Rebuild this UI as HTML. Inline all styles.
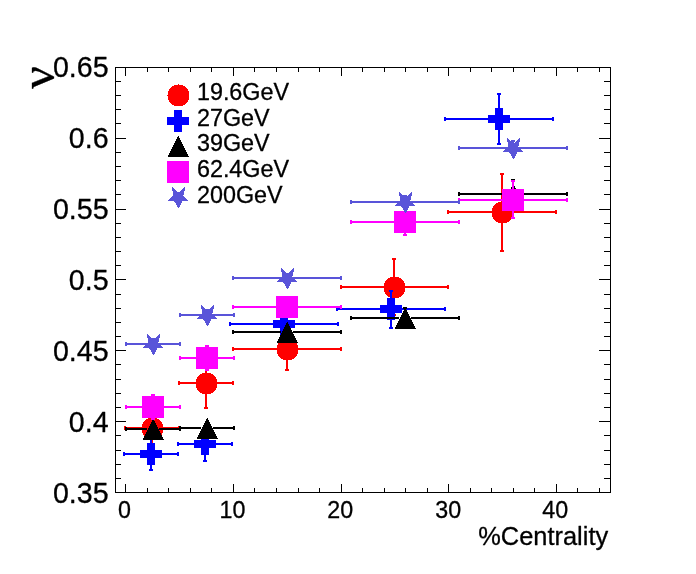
<!DOCTYPE html>
<html lang="en"><head><meta charset="utf-8"><title>Centrality plot</title>
<style>html,body{margin:0;padding:0;background:#fff;overflow:hidden}svg{display:block}text{font-family:"Liberation Sans",sans-serif;fill:#000}</style>
</head><body>
<svg width="696" height="574" viewBox="0 0 696 574">
<rect x="0" y="0" width="696" height="574" fill="#fff"/>
<g shape-rendering="crispEdges">
<rect x="115" y="67" width="496" height="1" fill="#000"/>
<rect x="115" y="492" width="496" height="1" fill="#000"/>
<rect x="115" y="67" width="1" height="426" fill="#000"/>
<rect x="610" y="67" width="1" height="426" fill="#000"/>
<rect x="125" y="484" width="1" height="9" fill="#000"/>
<rect x="125" y="67" width="1" height="9" fill="#000"/>
<rect x="147" y="488" width="1" height="5" fill="#000"/>
<rect x="147" y="67" width="1" height="5" fill="#000"/>
<rect x="168" y="488" width="1" height="5" fill="#000"/>
<rect x="168" y="67" width="1" height="5" fill="#000"/>
<rect x="190" y="488" width="1" height="5" fill="#000"/>
<rect x="190" y="67" width="1" height="5" fill="#000"/>
<rect x="211" y="488" width="1" height="5" fill="#000"/>
<rect x="211" y="67" width="1" height="5" fill="#000"/>
<rect x="233" y="484" width="1" height="9" fill="#000"/>
<rect x="233" y="67" width="1" height="9" fill="#000"/>
<rect x="254" y="488" width="1" height="5" fill="#000"/>
<rect x="254" y="67" width="1" height="5" fill="#000"/>
<rect x="276" y="488" width="1" height="5" fill="#000"/>
<rect x="276" y="67" width="1" height="5" fill="#000"/>
<rect x="298" y="488" width="1" height="5" fill="#000"/>
<rect x="298" y="67" width="1" height="5" fill="#000"/>
<rect x="319" y="488" width="1" height="5" fill="#000"/>
<rect x="319" y="67" width="1" height="5" fill="#000"/>
<rect x="341" y="484" width="1" height="9" fill="#000"/>
<rect x="341" y="67" width="1" height="9" fill="#000"/>
<rect x="362" y="488" width="1" height="5" fill="#000"/>
<rect x="362" y="67" width="1" height="5" fill="#000"/>
<rect x="384" y="488" width="1" height="5" fill="#000"/>
<rect x="384" y="67" width="1" height="5" fill="#000"/>
<rect x="405" y="488" width="1" height="5" fill="#000"/>
<rect x="405" y="67" width="1" height="5" fill="#000"/>
<rect x="427" y="488" width="1" height="5" fill="#000"/>
<rect x="427" y="67" width="1" height="5" fill="#000"/>
<rect x="448" y="484" width="1" height="9" fill="#000"/>
<rect x="448" y="67" width="1" height="9" fill="#000"/>
<rect x="470" y="488" width="1" height="5" fill="#000"/>
<rect x="470" y="67" width="1" height="5" fill="#000"/>
<rect x="491" y="488" width="1" height="5" fill="#000"/>
<rect x="491" y="67" width="1" height="5" fill="#000"/>
<rect x="513" y="488" width="1" height="5" fill="#000"/>
<rect x="513" y="67" width="1" height="5" fill="#000"/>
<rect x="534" y="488" width="1" height="5" fill="#000"/>
<rect x="534" y="67" width="1" height="5" fill="#000"/>
<rect x="556" y="484" width="1" height="9" fill="#000"/>
<rect x="556" y="67" width="1" height="9" fill="#000"/>
<rect x="577" y="488" width="1" height="5" fill="#000"/>
<rect x="577" y="67" width="1" height="5" fill="#000"/>
<rect x="599" y="488" width="1" height="5" fill="#000"/>
<rect x="599" y="67" width="1" height="5" fill="#000"/>
<rect x="115" y="81" width="6" height="1" fill="#000"/>
<rect x="604" y="81" width="7" height="1" fill="#000"/>
<rect x="115" y="95" width="6" height="1" fill="#000"/>
<rect x="604" y="95" width="7" height="1" fill="#000"/>
<rect x="115" y="109" width="6" height="1" fill="#000"/>
<rect x="604" y="109" width="7" height="1" fill="#000"/>
<rect x="115" y="123" width="6" height="1" fill="#000"/>
<rect x="604" y="123" width="7" height="1" fill="#000"/>
<rect x="115" y="138" width="11" height="1" fill="#000"/>
<rect x="599" y="138" width="12" height="1" fill="#000"/>
<rect x="115" y="152" width="6" height="1" fill="#000"/>
<rect x="604" y="152" width="7" height="1" fill="#000"/>
<rect x="115" y="166" width="6" height="1" fill="#000"/>
<rect x="604" y="166" width="7" height="1" fill="#000"/>
<rect x="115" y="180" width="6" height="1" fill="#000"/>
<rect x="604" y="180" width="7" height="1" fill="#000"/>
<rect x="115" y="194" width="6" height="1" fill="#000"/>
<rect x="604" y="194" width="7" height="1" fill="#000"/>
<rect x="115" y="209" width="11" height="1" fill="#000"/>
<rect x="599" y="209" width="12" height="1" fill="#000"/>
<rect x="115" y="223" width="6" height="1" fill="#000"/>
<rect x="604" y="223" width="7" height="1" fill="#000"/>
<rect x="115" y="237" width="6" height="1" fill="#000"/>
<rect x="604" y="237" width="7" height="1" fill="#000"/>
<rect x="115" y="251" width="6" height="1" fill="#000"/>
<rect x="604" y="251" width="7" height="1" fill="#000"/>
<rect x="115" y="265" width="6" height="1" fill="#000"/>
<rect x="604" y="265" width="7" height="1" fill="#000"/>
<rect x="115" y="279" width="11" height="1" fill="#000"/>
<rect x="599" y="279" width="12" height="1" fill="#000"/>
<rect x="115" y="294" width="6" height="1" fill="#000"/>
<rect x="604" y="294" width="7" height="1" fill="#000"/>
<rect x="115" y="308" width="6" height="1" fill="#000"/>
<rect x="604" y="308" width="7" height="1" fill="#000"/>
<rect x="115" y="322" width="6" height="1" fill="#000"/>
<rect x="604" y="322" width="7" height="1" fill="#000"/>
<rect x="115" y="336" width="6" height="1" fill="#000"/>
<rect x="604" y="336" width="7" height="1" fill="#000"/>
<rect x="115" y="350" width="11" height="1" fill="#000"/>
<rect x="599" y="350" width="12" height="1" fill="#000"/>
<rect x="115" y="364" width="6" height="1" fill="#000"/>
<rect x="604" y="364" width="7" height="1" fill="#000"/>
<rect x="115" y="379" width="6" height="1" fill="#000"/>
<rect x="604" y="379" width="7" height="1" fill="#000"/>
<rect x="115" y="393" width="6" height="1" fill="#000"/>
<rect x="604" y="393" width="7" height="1" fill="#000"/>
<rect x="115" y="407" width="6" height="1" fill="#000"/>
<rect x="604" y="407" width="7" height="1" fill="#000"/>
<rect x="115" y="421" width="11" height="1" fill="#000"/>
<rect x="599" y="421" width="12" height="1" fill="#000"/>
<rect x="115" y="435" width="6" height="1" fill="#000"/>
<rect x="604" y="435" width="7" height="1" fill="#000"/>
<rect x="115" y="450" width="6" height="1" fill="#000"/>
<rect x="604" y="450" width="7" height="1" fill="#000"/>
<rect x="115" y="464" width="6" height="1" fill="#000"/>
<rect x="604" y="464" width="7" height="1" fill="#000"/>
<rect x="115" y="478" width="6" height="1" fill="#000"/>
<rect x="604" y="478" width="7" height="1" fill="#000"/>
<rect x="124" y="427" width="56" height="2" fill="#ff0000"/>
<rect x="124" y="426" width="2" height="4" fill="#ff0000"/>
<rect x="178" y="426" width="2" height="4" fill="#ff0000"/>
<rect x="151" y="411" width="2" height="34" fill="#ff0000"/>
<rect x="150" y="411" width="4" height="2" fill="#ff0000"/>
<rect x="150" y="443" width="4" height="2" fill="#ff0000"/>
<rect x="178" y="382" width="56" height="2" fill="#ff0000"/>
<rect x="178" y="381" width="2" height="4" fill="#ff0000"/>
<rect x="232" y="381" width="2" height="4" fill="#ff0000"/>
<rect x="205" y="357" width="2" height="52" fill="#ff0000"/>
<rect x="204" y="357" width="4" height="2" fill="#ff0000"/>
<rect x="204" y="407" width="4" height="2" fill="#ff0000"/>
<rect x="232" y="348" width="110" height="2" fill="#ff0000"/>
<rect x="232" y="347" width="2" height="4" fill="#ff0000"/>
<rect x="340" y="347" width="2" height="4" fill="#ff0000"/>
<rect x="286" y="327" width="2" height="44" fill="#ff0000"/>
<rect x="285" y="327" width="4" height="2" fill="#ff0000"/>
<rect x="285" y="369" width="4" height="2" fill="#ff0000"/>
<rect x="340" y="286" width="109" height="2" fill="#ff0000"/>
<rect x="340" y="285" width="2" height="4" fill="#ff0000"/>
<rect x="447" y="285" width="2" height="4" fill="#ff0000"/>
<rect x="393" y="258" width="2" height="58" fill="#ff0000"/>
<rect x="392" y="258" width="4" height="2" fill="#ff0000"/>
<rect x="392" y="314" width="4" height="2" fill="#ff0000"/>
<rect x="447" y="211" width="110" height="2" fill="#ff0000"/>
<rect x="447" y="210" width="2" height="4" fill="#ff0000"/>
<rect x="555" y="210" width="2" height="4" fill="#ff0000"/>
<rect x="501" y="173" width="2" height="79" fill="#ff0000"/>
<rect x="500" y="173" width="4" height="2" fill="#ff0000"/>
<rect x="500" y="250" width="4" height="2" fill="#ff0000"/>
<path d="M148 418h9v1h-9zM146 419h13v1h-13zM145 420h15v1h-15zM144 421h17v1h-17zM143 422h19v1h-19zM143 423h19v1h-19zM142 424h21v1h-21zM142 425h21v1h-21zM142 426h21v1h-21zM142 427h21v1h-21zM142 428h21v1h-21zM142 429h21v1h-21zM142 430h21v1h-21zM142 431h21v1h-21zM142 432h21v1h-21zM143 433h19v1h-19zM143 434h19v1h-19zM144 435h17v1h-17zM145 436h15v1h-15zM146 437h13v1h-13zM148 438h9v1h-9zM152 417h1v1h-1zM141 428h1v1h-1z" fill="#ff0000"/>
<path d="M202 373h9v1h-9zM200 374h13v1h-13zM199 375h15v1h-15zM198 376h17v1h-17zM197 377h19v1h-19zM197 378h19v1h-19zM196 379h21v1h-21zM196 380h21v1h-21zM196 381h21v1h-21zM196 382h21v1h-21zM196 383h21v1h-21zM196 384h21v1h-21zM196 385h21v1h-21zM196 386h21v1h-21zM196 387h21v1h-21zM197 388h19v1h-19zM197 389h19v1h-19zM198 390h17v1h-17zM199 391h15v1h-15zM200 392h13v1h-13zM202 393h9v1h-9zM206 372h1v1h-1zM195 383h1v1h-1z" fill="#ff0000"/>
<path d="M283 339h9v1h-9zM281 340h13v1h-13zM280 341h15v1h-15zM279 342h17v1h-17zM278 343h19v1h-19zM278 344h19v1h-19zM277 345h21v1h-21zM277 346h21v1h-21zM277 347h21v1h-21zM277 348h21v1h-21zM277 349h21v1h-21zM277 350h21v1h-21zM277 351h21v1h-21zM277 352h21v1h-21zM277 353h21v1h-21zM278 354h19v1h-19zM278 355h19v1h-19zM279 356h17v1h-17zM280 357h15v1h-15zM281 358h13v1h-13zM283 359h9v1h-9zM287 338h1v1h-1zM276 349h1v1h-1z" fill="#ff0000"/>
<path d="M390 277h9v1h-9zM388 278h13v1h-13zM387 279h15v1h-15zM386 280h17v1h-17zM385 281h19v1h-19zM385 282h19v1h-19zM384 283h21v1h-21zM384 284h21v1h-21zM384 285h21v1h-21zM384 286h21v1h-21zM384 287h21v1h-21zM384 288h21v1h-21zM384 289h21v1h-21zM384 290h21v1h-21zM384 291h21v1h-21zM385 292h19v1h-19zM385 293h19v1h-19zM386 294h17v1h-17zM387 295h15v1h-15zM388 296h13v1h-13zM390 297h9v1h-9zM394 276h1v1h-1zM383 287h1v1h-1z" fill="#ff0000"/>
<path d="M498 202h9v1h-9zM496 203h13v1h-13zM495 204h15v1h-15zM494 205h17v1h-17zM493 206h19v1h-19zM493 207h19v1h-19zM492 208h21v1h-21zM492 209h21v1h-21zM492 210h21v1h-21zM492 211h21v1h-21zM492 212h21v1h-21zM492 213h21v1h-21zM492 214h21v1h-21zM492 215h21v1h-21zM492 216h21v1h-21zM493 217h19v1h-19zM493 218h19v1h-19zM494 219h17v1h-17zM495 220h15v1h-15zM496 221h13v1h-13zM498 222h9v1h-9zM502 201h1v1h-1zM491 212h1v1h-1z" fill="#ff0000"/>
<rect x="123" y="453" width="56" height="2" fill="#0000ff"/>
<rect x="123" y="452" width="2" height="4" fill="#0000ff"/>
<rect x="177" y="452" width="2" height="4" fill="#0000ff"/>
<rect x="150" y="437" width="2" height="34" fill="#0000ff"/>
<rect x="149" y="437" width="4" height="2" fill="#0000ff"/>
<rect x="149" y="469" width="4" height="2" fill="#0000ff"/>
<rect x="177" y="443" width="56" height="2" fill="#0000ff"/>
<rect x="177" y="442" width="2" height="4" fill="#0000ff"/>
<rect x="231" y="442" width="2" height="4" fill="#0000ff"/>
<rect x="204" y="426" width="2" height="36" fill="#0000ff"/>
<rect x="203" y="426" width="4" height="2" fill="#0000ff"/>
<rect x="203" y="460" width="4" height="2" fill="#0000ff"/>
<rect x="229" y="323" width="110" height="2" fill="#0000ff"/>
<rect x="229" y="322" width="2" height="4" fill="#0000ff"/>
<rect x="337" y="322" width="2" height="4" fill="#0000ff"/>
<rect x="336" y="308" width="110" height="2" fill="#0000ff"/>
<rect x="336" y="307" width="2" height="4" fill="#0000ff"/>
<rect x="444" y="307" width="2" height="4" fill="#0000ff"/>
<rect x="390" y="290" width="2" height="39" fill="#0000ff"/>
<rect x="389" y="290" width="4" height="2" fill="#0000ff"/>
<rect x="389" y="327" width="4" height="2" fill="#0000ff"/>
<rect x="444" y="118" width="110" height="2" fill="#0000ff"/>
<rect x="444" y="117" width="2" height="4" fill="#0000ff"/>
<rect x="552" y="117" width="2" height="4" fill="#0000ff"/>
<rect x="498" y="93" width="2" height="52" fill="#0000ff"/>
<rect x="497" y="93" width="4" height="2" fill="#0000ff"/>
<rect x="497" y="143" width="4" height="2" fill="#0000ff"/>
<rect x="140" y="450" width="22" height="8" fill="#0000ff"/>
<rect x="147" y="443" width="8" height="22" fill="#0000ff"/>
<rect x="194" y="440" width="22" height="8" fill="#0000ff"/>
<rect x="201" y="433" width="8" height="22" fill="#0000ff"/>
<rect x="273" y="320" width="22" height="8" fill="#0000ff"/>
<rect x="280" y="313" width="8" height="22" fill="#0000ff"/>
<rect x="380" y="305" width="22" height="8" fill="#0000ff"/>
<rect x="387" y="298" width="8" height="22" fill="#0000ff"/>
<rect x="488" y="115" width="22" height="8" fill="#0000ff"/>
<rect x="495" y="108" width="8" height="22" fill="#0000ff"/>
<rect x="125" y="428" width="22" height="2" fill="#000000"/>
<rect x="159" y="428" width="22" height="2" fill="#000000"/>
<rect x="125" y="427" width="2" height="4" fill="#000000"/>
<rect x="179" y="427" width="2" height="4" fill="#000000"/>
<rect x="179" y="427" width="22" height="2" fill="#000000"/>
<rect x="213" y="427" width="22" height="2" fill="#000000"/>
<rect x="179" y="426" width="2" height="4" fill="#000000"/>
<rect x="233" y="426" width="2" height="4" fill="#000000"/>
<rect x="232" y="331" width="49" height="2" fill="#000000"/>
<rect x="293" y="331" width="49" height="2" fill="#000000"/>
<rect x="232" y="330" width="2" height="4" fill="#000000"/>
<rect x="340" y="330" width="2" height="4" fill="#000000"/>
<rect x="350" y="317" width="49" height="2" fill="#000000"/>
<rect x="411" y="317" width="49" height="2" fill="#000000"/>
<rect x="350" y="316" width="2" height="4" fill="#000000"/>
<rect x="458" y="316" width="2" height="4" fill="#000000"/>
<rect x="404" y="307" width="2" height="22" fill="#000000"/>
<rect x="403" y="307" width="4" height="2" fill="#000000"/>
<rect x="403" y="327" width="4" height="2" fill="#000000"/>
<rect x="458" y="193" width="49" height="2" fill="#000000"/>
<rect x="519" y="193" width="49" height="2" fill="#000000"/>
<rect x="458" y="192" width="2" height="4" fill="#000000"/>
<rect x="566" y="192" width="2" height="4" fill="#000000"/>
<rect x="512" y="179" width="2" height="30" fill="#000000"/>
<rect x="511" y="179" width="4" height="2" fill="#000000"/>
<rect x="511" y="207" width="4" height="2" fill="#000000"/>
<path d="M143 439h21v1h-21zM143 438h20v1h-20zM144 437h19v1h-19zM144 436h18v1h-18zM145 435h17v1h-17zM145 434h16v1h-16zM146 433h15v1h-15zM146 432h14v1h-14zM147 431h13v1h-13zM147 430h12v1h-12zM148 429h11v1h-11zM148 428h10v1h-10zM149 427h9v1h-9zM149 426h8v1h-8zM150 425h7v1h-7zM150 424h6v1h-6zM151 423h5v1h-5zM151 422h4v1h-4zM152 421h3v1h-3zM152 420h2v1h-2zM153 419h1v1h-1z" fill="#000000"/>
<path d="M197 438h21v1h-21zM197 437h20v1h-20zM198 436h19v1h-19zM198 435h18v1h-18zM199 434h17v1h-17zM199 433h16v1h-16zM200 432h15v1h-15zM200 431h14v1h-14zM201 430h13v1h-13zM201 429h12v1h-12zM202 428h11v1h-11zM202 427h10v1h-10zM203 426h9v1h-9zM203 425h8v1h-8zM204 424h7v1h-7zM204 423h6v1h-6zM205 422h5v1h-5zM205 421h4v1h-4zM206 420h3v1h-3zM206 419h2v1h-2zM207 418h1v1h-1z" fill="#000000"/>
<path d="M277 342h21v1h-21zM277 341h20v1h-20zM278 340h19v1h-19zM278 339h18v1h-18zM279 338h17v1h-17zM279 337h16v1h-16zM280 336h15v1h-15zM280 335h14v1h-14zM281 334h13v1h-13zM281 333h12v1h-12zM282 332h11v1h-11zM282 331h10v1h-10zM283 330h9v1h-9zM283 329h8v1h-8zM284 328h7v1h-7zM284 327h6v1h-6zM285 326h5v1h-5zM285 325h4v1h-4zM286 324h3v1h-3zM286 323h2v1h-2zM287 322h1v1h-1z" fill="#000000"/>
<path d="M395 328h21v1h-21zM395 327h20v1h-20zM396 326h19v1h-19zM396 325h18v1h-18zM397 324h17v1h-17zM397 323h16v1h-16zM398 322h15v1h-15zM398 321h14v1h-14zM399 320h13v1h-13zM399 319h12v1h-12zM400 318h11v1h-11zM400 317h10v1h-10zM401 316h9v1h-9zM401 315h8v1h-8zM402 314h7v1h-7zM402 313h6v1h-6zM403 312h5v1h-5zM403 311h4v1h-4zM404 310h3v1h-3zM404 309h2v1h-2zM405 308h1v1h-1z" fill="#000000"/>
<path d="M503 204h21v1h-21zM503 203h20v1h-20zM504 202h19v1h-19zM504 201h18v1h-18zM505 200h17v1h-17zM505 199h16v1h-16zM506 198h15v1h-15zM506 197h14v1h-14zM507 196h13v1h-13zM507 195h12v1h-12zM508 194h11v1h-11zM508 193h10v1h-10zM509 192h9v1h-9zM509 191h8v1h-8zM510 190h7v1h-7zM510 189h6v1h-6zM511 188h5v1h-5zM511 187h4v1h-4zM512 186h3v1h-3zM512 185h2v1h-2zM513 184h1v1h-1z" fill="#000000"/>
<rect x="125" y="406" width="56" height="2" fill="#ff00ff"/>
<rect x="125" y="405" width="2" height="4" fill="#ff00ff"/>
<rect x="179" y="405" width="2" height="4" fill="#ff00ff"/>
<rect x="152" y="394" width="2" height="26" fill="#ff00ff"/>
<rect x="151" y="394" width="4" height="2" fill="#ff00ff"/>
<rect x="151" y="418" width="4" height="2" fill="#ff00ff"/>
<rect x="179" y="357" width="56" height="2" fill="#ff00ff"/>
<rect x="179" y="356" width="2" height="4" fill="#ff00ff"/>
<rect x="233" y="356" width="2" height="4" fill="#ff00ff"/>
<rect x="206" y="345" width="2" height="26" fill="#ff00ff"/>
<rect x="205" y="345" width="4" height="2" fill="#ff00ff"/>
<rect x="205" y="369" width="4" height="2" fill="#ff00ff"/>
<rect x="232" y="306" width="110" height="2" fill="#ff00ff"/>
<rect x="232" y="305" width="2" height="4" fill="#ff00ff"/>
<rect x="340" y="305" width="2" height="4" fill="#ff00ff"/>
<rect x="350" y="221" width="110" height="2" fill="#ff00ff"/>
<rect x="350" y="220" width="2" height="4" fill="#ff00ff"/>
<rect x="458" y="220" width="2" height="4" fill="#ff00ff"/>
<rect x="404" y="208" width="2" height="28" fill="#ff00ff"/>
<rect x="403" y="208" width="4" height="2" fill="#ff00ff"/>
<rect x="403" y="234" width="4" height="2" fill="#ff00ff"/>
<rect x="458" y="199" width="110" height="2" fill="#ff00ff"/>
<rect x="458" y="198" width="2" height="4" fill="#ff00ff"/>
<rect x="566" y="198" width="2" height="4" fill="#ff00ff"/>
<rect x="512" y="180" width="2" height="39" fill="#ff00ff"/>
<rect x="511" y="180" width="4" height="2" fill="#ff00ff"/>
<rect x="511" y="217" width="4" height="2" fill="#ff00ff"/>
<rect x="142" y="396" width="22" height="22" fill="#ff00ff"/>
<rect x="196" y="347" width="22" height="22" fill="#ff00ff"/>
<rect x="276" y="296" width="22" height="22" fill="#ff00ff"/>
<rect x="394" y="211" width="22" height="22" fill="#ff00ff"/>
<rect x="502" y="189" width="22" height="22" fill="#ff00ff"/>
<rect x="125" y="343" width="56" height="2" fill="#5954d9"/>
<rect x="125" y="342" width="2" height="4" fill="#5954d9"/>
<rect x="179" y="342" width="2" height="4" fill="#5954d9"/>
<rect x="152" y="338" width="2" height="12" fill="#5954d9"/>
<rect x="151" y="338" width="4" height="2" fill="#5954d9"/>
<rect x="151" y="348" width="4" height="2" fill="#5954d9"/>
<rect x="179" y="314" width="56" height="2" fill="#5954d9"/>
<rect x="179" y="313" width="2" height="4" fill="#5954d9"/>
<rect x="233" y="313" width="2" height="4" fill="#5954d9"/>
<rect x="206" y="309" width="2" height="12" fill="#5954d9"/>
<rect x="205" y="309" width="4" height="2" fill="#5954d9"/>
<rect x="205" y="319" width="4" height="2" fill="#5954d9"/>
<rect x="232" y="277" width="110" height="2" fill="#5954d9"/>
<rect x="232" y="276" width="2" height="4" fill="#5954d9"/>
<rect x="340" y="276" width="2" height="4" fill="#5954d9"/>
<rect x="350" y="201" width="110" height="2" fill="#5954d9"/>
<rect x="350" y="200" width="2" height="4" fill="#5954d9"/>
<rect x="458" y="200" width="2" height="4" fill="#5954d9"/>
<rect x="404" y="195" width="2" height="14" fill="#5954d9"/>
<rect x="403" y="195" width="4" height="2" fill="#5954d9"/>
<rect x="403" y="207" width="4" height="2" fill="#5954d9"/>
<rect x="458" y="147" width="110" height="2" fill="#5954d9"/>
<rect x="458" y="146" width="2" height="4" fill="#5954d9"/>
<rect x="566" y="146" width="2" height="4" fill="#5954d9"/>
<rect x="512" y="140" width="2" height="16" fill="#5954d9"/>
<rect x="511" y="140" width="4" height="2" fill="#5954d9"/>
<rect x="511" y="154" width="4" height="2" fill="#5954d9"/>
<path d="M147 334h1v1h-1zM159 334h1v1h-1zM147 335h2v1h-2zM158 335h2v1h-2zM147 336h3v1h-3zM157 336h3v1h-3zM147 337h4v1h-4zM156 337h4v1h-4zM148 338h4v1h-4zM155 338h4v1h-4zM148 339h11v1h-11zM148 340h11v1h-11zM148 341h11v1h-11zM148 342h10v1h-10zM147 343h12v1h-12zM146 344h14v1h-14zM145 345h16v1h-16zM144 346h18v1h-18zM143 347h20v1h-20zM149 348h8v1h-8zM150 349h7v1h-7zM151 350h5v1h-5zM151 351h5v1h-5zM152 352h3v1h-3zM152 353h3v1h-3zM153 354h1v1h-1z" fill="#5954d9"/>
<path d="M201 305h1v1h-1zM213 305h1v1h-1zM201 306h2v1h-2zM212 306h2v1h-2zM201 307h3v1h-3zM211 307h3v1h-3zM201 308h4v1h-4zM210 308h4v1h-4zM202 309h4v1h-4zM209 309h4v1h-4zM202 310h11v1h-11zM202 311h11v1h-11zM202 312h11v1h-11zM202 313h10v1h-10zM201 314h12v1h-12zM200 315h14v1h-14zM199 316h16v1h-16zM198 317h18v1h-18zM197 318h20v1h-20zM203 319h8v1h-8zM204 320h7v1h-7zM205 321h5v1h-5zM205 322h5v1h-5zM206 323h3v1h-3zM206 324h3v1h-3zM207 325h1v1h-1z" fill="#5954d9"/>
<path d="M281 268h1v1h-1zM293 268h1v1h-1zM281 269h2v1h-2zM292 269h2v1h-2zM281 270h3v1h-3zM291 270h3v1h-3zM281 271h4v1h-4zM290 271h4v1h-4zM282 272h4v1h-4zM289 272h4v1h-4zM282 273h11v1h-11zM282 274h11v1h-11zM282 275h11v1h-11zM282 276h10v1h-10zM281 277h12v1h-12zM280 278h14v1h-14zM279 279h16v1h-16zM278 280h18v1h-18zM277 281h20v1h-20zM283 282h8v1h-8zM284 283h7v1h-7zM285 284h5v1h-5zM285 285h5v1h-5zM286 286h3v1h-3zM286 287h3v1h-3zM287 288h1v1h-1z" fill="#5954d9"/>
<path d="M399 192h1v1h-1zM411 192h1v1h-1zM399 193h2v1h-2zM410 193h2v1h-2zM399 194h3v1h-3zM409 194h3v1h-3zM399 195h4v1h-4zM408 195h4v1h-4zM400 196h4v1h-4zM407 196h4v1h-4zM400 197h11v1h-11zM400 198h11v1h-11zM400 199h11v1h-11zM400 200h10v1h-10zM399 201h12v1h-12zM398 202h14v1h-14zM397 203h16v1h-16zM396 204h18v1h-18zM395 205h20v1h-20zM401 206h8v1h-8zM402 207h7v1h-7zM403 208h5v1h-5zM403 209h5v1h-5zM404 210h3v1h-3zM404 211h3v1h-3zM405 212h1v1h-1z" fill="#5954d9"/>
<path d="M507 138h1v1h-1zM519 138h1v1h-1zM507 139h2v1h-2zM518 139h2v1h-2zM507 140h3v1h-3zM517 140h3v1h-3zM507 141h4v1h-4zM516 141h4v1h-4zM508 142h4v1h-4zM515 142h4v1h-4zM508 143h11v1h-11zM508 144h11v1h-11zM508 145h11v1h-11zM508 146h10v1h-10zM507 147h12v1h-12zM506 148h14v1h-14zM505 149h16v1h-16zM504 150h18v1h-18zM503 151h20v1h-20zM509 152h8v1h-8zM510 153h7v1h-7zM511 154h5v1h-5zM511 155h5v1h-5zM512 156h3v1h-3zM512 157h3v1h-3zM513 158h1v1h-1z" fill="#5954d9"/>
<path d="M174 85h9v1h-9zM172 86h13v1h-13zM171 87h15v1h-15zM170 88h17v1h-17zM169 89h19v1h-19zM169 90h19v1h-19zM168 91h21v1h-21zM168 92h21v1h-21zM168 93h21v1h-21zM168 94h21v1h-21zM168 95h21v1h-21zM168 96h21v1h-21zM168 97h21v1h-21zM168 98h21v1h-21zM168 99h21v1h-21zM169 100h19v1h-19zM169 101h19v1h-19zM170 102h17v1h-17zM171 103h15v1h-15zM172 104h13v1h-13zM174 105h9v1h-9zM178 84h1v1h-1zM167 95h1v1h-1z" fill="#ff0000"/>
<rect x="167" y="117" width="22" height="8" fill="#0000ff"/>
<rect x="174" y="110" width="8" height="22" fill="#0000ff"/>
<path d="M168 156h21v1h-21zM168 155h20v1h-20zM169 154h19v1h-19zM169 153h18v1h-18zM170 152h17v1h-17zM170 151h16v1h-16zM171 150h15v1h-15zM171 149h14v1h-14zM172 148h13v1h-13zM172 147h12v1h-12zM173 146h11v1h-11zM173 145h10v1h-10zM174 144h9v1h-9zM174 143h8v1h-8zM175 142h7v1h-7zM175 141h6v1h-6zM176 140h5v1h-5zM176 139h4v1h-4zM177 138h3v1h-3zM177 137h2v1h-2zM178 136h1v1h-1z" fill="#000000"/>
<rect x="167" y="161" width="22" height="22" fill="#ff00ff"/>
<path d="M172 187h1v1h-1zM184 187h1v1h-1zM172 188h2v1h-2zM183 188h2v1h-2zM172 189h3v1h-3zM182 189h3v1h-3zM172 190h4v1h-4zM181 190h4v1h-4zM173 191h4v1h-4zM180 191h4v1h-4zM173 192h11v1h-11zM173 193h11v1h-11zM173 194h11v1h-11zM173 195h10v1h-10zM172 196h12v1h-12zM171 197h14v1h-14zM170 198h16v1h-16zM169 199h18v1h-18zM168 200h20v1h-20zM174 201h8v1h-8zM175 202h7v1h-7zM176 203h5v1h-5zM176 204h5v1h-5zM177 205h3v1h-3zM177 206h3v1h-3zM178 207h1v1h-1z" fill="#5954d9"/>
</g>
<g stroke="#000" stroke-width="0.3" stroke-linejoin="round">
<text transform="translate(196.9,99.9) scale(0.978,1)" font-size="23.9">19.6GeV</text>
<text transform="translate(196.9,125.9) scale(0.978,1)" font-size="23.9">27GeV</text>
<text transform="translate(196.9,150.9) scale(0.978,1)" font-size="23.9">39GeV</text>
<text transform="translate(196.9,176.9) scale(0.978,1)" font-size="23.9">62.4GeV</text>
<text transform="translate(196.9,202.9) scale(0.978,1)" font-size="23.9">200GeV</text>
<text transform="translate(124.5,517.85) scale(0.97,1)" font-size="24" text-anchor="middle">0</text>
<text transform="translate(232.55,517.85) scale(0.97,1)" font-size="24" text-anchor="middle">10</text>
<text transform="translate(340.2,517.85) scale(0.97,1)" font-size="24" text-anchor="middle">20</text>
<text transform="translate(448.3,517.85) scale(0.97,1)" font-size="24" text-anchor="middle">30</text>
<text transform="translate(555.2,517.85) scale(0.97,1)" font-size="24" text-anchor="middle">40</text>
<text transform="translate(108.6,76.9) scale(0.953,1)" font-size="30" text-anchor="end">0.65</text>
<text transform="translate(108.6,147.9) scale(0.953,1)" font-size="30" text-anchor="end">0.6</text>
<text transform="translate(108.6,218.9) scale(0.953,1)" font-size="30" text-anchor="end">0.55</text>
<text transform="translate(108.6,289.9) scale(0.953,1)" font-size="30" text-anchor="end">0.5</text>
<text transform="translate(108.6,360.9) scale(0.953,1)" font-size="30" text-anchor="end">0.45</text>
<text transform="translate(108.6,431.9) scale(0.953,1)" font-size="30" text-anchor="end">0.4</text>
<text transform="translate(108.6,502.9) scale(0.953,1)" font-size="30" text-anchor="end">0.35</text>
<text x="608.2" y="544.9" font-size="26.2" text-anchor="end" textLength="130" lengthAdjust="spacingAndGlyphs">%Centrality</text>
</g>
<text transform="translate(53.9,88.8) rotate(-90) scale(1.05,1)" font-size="47.5" stroke="#000" stroke-width="0.3" style="font-family:'Liberation Serif',serif">ν</text>
</svg>
</body></html>
